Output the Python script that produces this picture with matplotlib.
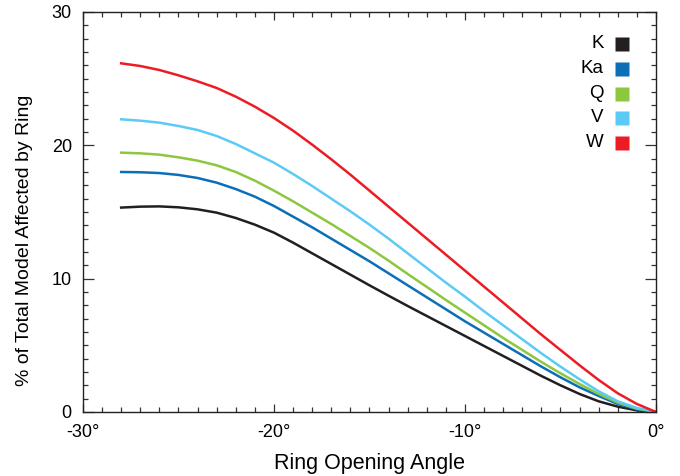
import numpy as np
import matplotlib.pyplot as plt
from matplotlib.ticker import MultipleLocator

plt.rcParams['font.family'] = ['Liberation Sans', 'DejaVu Sans']

# ring opening angle (deg) and % of model affected, per band
angle = [-28, -27, -26, -25, -24, -23, -22, -21, -20, -19, -18, -17, -16, -15,
         -14, -13, -12, -11, -10, -9, -8, -7, -6, -5, -4, -3, -2, -1, 0]
k_band = [15.33, 15.4, 15.42, 15.35, 15.2, 14.95, 14.55, 14.05, 13.45, 12.7, 11.9,
          11.1, 10.3, 9.5, 8.72, 7.95, 7.2, 6.45, 5.7, 4.95, 4.2, 3.45, 2.7,
          2.0, 1.35, 0.8, 0.4, 0.12, 0.0]
ka_band = [18.0, 17.98, 17.92, 17.78, 17.55, 17.2, 16.72, 16.15, 15.45, 14.65, 13.85,
           13.0, 12.15, 11.3, 10.4, 9.5, 8.6, 7.7, 6.8, 5.95, 5.1, 4.25, 3.4,
           2.6, 1.85, 1.2, 0.6, 0.2, 0.0]
q_band = [19.45, 19.4, 19.3, 19.1, 18.85, 18.5, 18.0, 17.35, 16.6, 15.8, 14.95,
          14.1, 13.2, 12.3, 11.35, 10.35, 9.38, 8.4, 7.45, 6.5, 5.55, 4.65, 3.75,
          2.9, 2.1, 1.35, 0.7, 0.25, 0.0]
v_band = [21.95, 21.85, 21.7, 21.45, 21.15, 20.7, 20.1, 19.4, 18.7, 17.85, 16.95,
          16.0, 15.05, 14.05, 13.0, 11.9, 10.8, 9.7, 8.65, 7.55, 6.5, 5.45, 4.4,
          3.4, 2.45, 1.55, 0.8, 0.3, 0.0]
w_band = [26.15, 25.95, 25.65, 25.25, 24.8, 24.3, 23.65, 22.9, 22.05, 21.1, 20.05,
          18.95, 17.8, 16.6, 15.4, 14.2, 13.0, 11.8, 10.6, 9.4, 8.2, 7.0, 5.8,
          4.65, 3.5, 2.4, 1.4, 0.6, 0.0]

bands = ['K', 'Ka', 'Q', 'V', 'W']
series = [k_band, ka_band, q_band, v_band, w_band]
colors = ['#231f20', '#0b6fb8', '#8dc63f', '#5bcbf5', '#ed1c24']

fig = plt.figure(figsize=(6.8, 4.76), dpi=100)
ax = fig.add_axes([0.122, 0.1345, 0.8427, 0.8403])

for vals, c in zip(series, colors):
    ax.plot(angle, vals, color=c, lw=1.8, solid_joinstyle='round')

ax.set_xlim(-30, 0)
ax.set_ylim(0, 30)
ax.set_xticks([-30, -20, -10, 0], ['-30°', '-20°', '-10°', '0°'])
ax.set_yticks([0, 10, 20, 30])
ax.xaxis.set_minor_locator(MultipleLocator(1))
ax.yaxis.set_minor_locator(MultipleLocator(1))
ax.tick_params(which='both', direction='in', top=True, right=True,
               width=0.9, color='#333333', labelsize=13)
ax.tick_params(axis='x', which='major', length=6, pad=9)
ax.tick_params(axis='y', which='major', length=8, pad=8)
ax.tick_params(which='minor', length=3.5)
for s in ax.spines.values():
    s.set_linewidth(1.0)
    s.set_color('#222222')

ax.set_xlabel('Ring Opening Angle', fontsize=15.5, labelpad=8)
ax.set_ylabel('% of Total Model Affected by Ring', fontsize=14)
ax.yaxis.set_label_coords(-0.087, 0.43)

# legend: labels right-aligned next to colour squares
ys = [0.92, 0.8575, 0.795, 0.735, 0.6725]
for name, c, y in zip(bands, colors, ys):
    ax.text(0.909, y, name, transform=ax.transAxes, ha='right', va='center',
            fontsize=13.5)
    ax.plot([0.9407], [y], marker='s', ms=10, color=c, mec='none',
            transform=ax.transAxes, clip_on=False)

fig.savefig('out.png', dpi=100)
